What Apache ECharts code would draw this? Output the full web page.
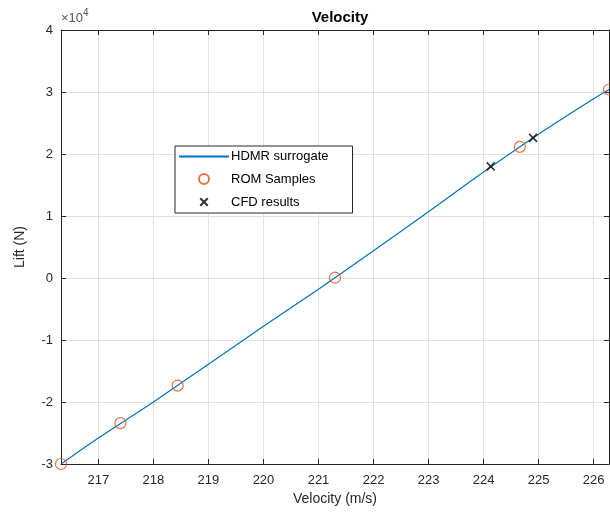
<!DOCTYPE html>
<html>
<head>
<meta charset="utf-8">
<title>Velocity</title>
<script src="https://cdn.jsdelivr.net/npm/echarts@6/dist/echarts.min.js"></script>
<style>
  html, body { margin: 0; padding: 0; background: #fff; }
  #chart { width: 610px; height: 520px; }
</style>
</head>
<body>
<div id="chart"></div>
<script>
// HDMR surrogate curve: velocity (m/s) and lift (N)
const surrogateVelocity = [216.32, 217, 218, 219, 220, 221, 222, 223, 224, 225, 226, 226.28];
const surrogateLift = [-30000, -25800, -20000, -13900, -7800, -1800, 4400, 10700, 17100, 23200, 28900, 30400];

// Reduced-order-model samples
const romVelocity = [216.32, 217.40, 218.44, 221.30, 224.66, 226.28];
const romLift = [-30000, -23400, -17350, 50, 21150, 30400];

// CFD results
const cfdVelocity = [224.13, 224.90];
const cfdLift = [18000, 22600];

// Axis ticks
const velocityTicks = [217, 218, 219, 220, 221, 222, 223, 224, 225, 226];
const liftMin = -30000, liftMax = 40000, liftStep = 10000;

const FONT = '"Liberation Sans", Arial, Helvetica, sans-serif';
const INK = '#262626';
const GRID = '#e2e2e2';
const CROSS = 'path://M0,0L10,10M10,0L0,10';
// legend icons padded with empty margin so they draw a little smaller
const CROSS_LEGEND = 'path://M-3,-3M0,0L10,10M10,0L0,10M13,13';
const RING_LEGEND = 'path://M-1,-1M0,5A5,5,0,1,1,10,5A5,5,0,1,1,0,5ZM11,11';

const zip = (xs, ys) => xs.map((x, i) => [x, ys[i]]);

const xMin = surrogateVelocity[0];
const xMax = surrogateVelocity[surrogateVelocity.length - 1];

const chart = echarts.init(document.getElementById('chart'), null, { renderer: 'canvas' });

function frameAxis(extra) {
  return Object.assign({
    axisLine: { show: true, onZero: false, lineStyle: { color: INK, width: 1 } },
    axisTick: { show: true, inside: true, length: 5, lineStyle: { color: INK } }
  }, extra);
}

const option = {
  backgroundColor: '#fff',
  animation: false,
  textStyle: { fontFamily: FONT },
  title: {
    text: 'Velocity',
    left: 335, top: 5, textAlign: 'center',
    textStyle: { fontFamily: FONT, fontSize: 15, fontWeight: 'bold', color: '#000' }
  },
  grid: { left: 61, right: 1, top: 30, bottom: 56, containLabel: false },
  graphic: [{
    type: 'text', left: 61, top: 8,
    style: {
      text: '{a|×10}{b|4}',
      rich: {
        a: { fontFamily: FONT, fontSize: 13, fill: '#555', verticalAlign: 'bottom' },
        b: { fontFamily: FONT, fontSize: 10, fill: '#555', verticalAlign: 'top', padding: [0, 0, 7, 0] }
      }
    }
  }],
  legend: {
    orient: 'vertical',
    left: 175, top: 146,
    backgroundColor: '#fff',
    borderColor: INK, borderWidth: 1, borderRadius: 0,
    padding: [4, 24, 4, 3],
    itemWidth: 50, itemHeight: 12, itemGap: 9,
    textStyle: { fontFamily: FONT, fontSize: 13, color: '#000', padding: [0, 0, 0, -3] },
    data: [
      { name: 'HDMR surrogate', itemStyle: { opacity: 0 } },
      { name: 'ROM Samples', icon: RING_LEGEND },
      { name: 'CFD results', icon: CROSS_LEGEND }
    ]
  },
  xAxis: [frameAxis({
    type: 'value', position: 'bottom',
    min: xMin, max: xMax,
    name: 'Velocity (m/s)', nameLocation: 'middle', nameGap: 26,
    nameTextStyle: { fontFamily: FONT, fontSize: 14, color: INK },
    axisTick: { show: true, inside: true, length: 5, customValues: velocityTicks, lineStyle: { color: INK } },
    axisLabel: { customValues: velocityTicks, margin: 10, fontFamily: FONT, fontSize: 13, color: INK },
    splitLine: { show: true, lineStyle: { color: GRID, width: 1 } }
  }), frameAxis({
    type: 'value', position: 'top',
    min: xMin, max: xMax,
    axisTick: { show: true, inside: true, length: 5, customValues: velocityTicks, lineStyle: { color: INK } },
    axisLabel: { show: false },
    splitLine: { show: false }
  })],
  yAxis: [frameAxis({
    type: 'value', position: 'left',
    min: liftMin, max: liftMax, interval: liftStep,
    name: 'Lift (N)', nameLocation: 'middle', nameGap: 34, nameRotate: 90,
    nameTextStyle: { fontFamily: FONT, fontSize: 14, color: INK },
    axisLabel: { margin: 8, fontFamily: FONT, fontSize: 13, color: INK, formatter: v => String(v / 10000) },
    splitLine: { show: true, lineStyle: { color: GRID, width: 1 } }
  }), frameAxis({
    type: 'value', position: 'right',
    min: liftMin, max: liftMax, interval: liftStep,
    axisLabel: { show: false },
    splitLine: { show: false }
  })],
  series: [{
    name: 'HDMR surrogate',
    type: 'line',
    data: zip(surrogateVelocity, surrogateLift),
    symbol: 'none',
    smooth: 0.3,
    lineStyle: { color: '#0072BD', width: 1.2 },
    itemStyle: { color: '#0072BD' },
    z: 2
  }, {
    name: 'ROM Samples',
    type: 'scatter',
    data: zip(romVelocity, romLift),
    symbol: 'circle',
    symbolSize: 11,
    itemStyle: { color: 'rgba(0,0,0,0)', borderColor: '#D95319', borderWidth: 1.2 },
    z: 3
  }, {
    name: 'CFD results',
    type: 'scatter',
    data: zip(cfdVelocity, cfdLift),
    symbol: CROSS,
    symbolSize: 8,
    itemStyle: { color: 'rgba(0,0,0,0)', borderColor: '#000', borderWidth: 1.6 },
    z: 4
  }]
};

chart.setOption(option);
</script>
</body>
</html>
